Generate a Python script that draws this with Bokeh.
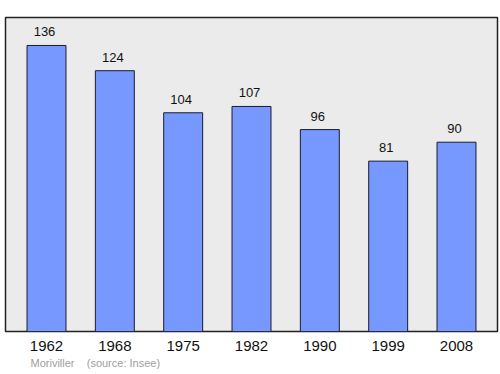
from bokeh.plotting import figure
from bokeh.models import ColumnDataSource, Range1d, Title, FixedTicker
from bokeh.core.properties import value
from bokeh.embed import file_html
from bokeh.resources import INLINE

years = ["1962", "1968", "1975", "1982", "1990", "1999", "2008"]
population = [136, 124, 104, 107, 96, 81, 90]
footer = "Moriviller\u00a0\u00a0\u00a0\u00a0(source: Insee)"

xs = list(range(len(years)))
src = ColumnDataSource(dict(x=xs, top=population, lab=[str(v) for v in population]))

p = figure(width=500, height=374, output_backend="svg", toolbar_location=None,
           x_range=Range1d(-0.6, 6.6), y_range=Range1d(0, 149.3),
           min_border_left=5, min_border_right=3, min_border_top=17, min_border_bottom=0)
p.background_fill_color = "#ebebeb"
p.border_fill_color = "white"
p.outline_line_color = "#222222"
p.outline_line_width = 1.5
p.xgrid.visible = False
p.ygrid.visible = False
p.yaxis.visible = False

p.vbar(x="x", top="top", width=0.57, bottom=0, source=src,
       fill_color="#7799ff", line_color="#1a1a2e", line_width=1)
p.text(x="x", y="top", text="lab", source=src, y_offset=-9, x_offset=-2,
       text_align="center", text_baseline="bottom",
       text_font=value("Liberation Sans"), text_font_size="13px", text_color="#111111")

ax = p.xaxis[0]
ax.ticker = FixedTicker(ticks=xs)
ax.major_label_overrides = {i: y for i, y in zip(xs, years)}
ax.major_label_text_font = "Liberation Sans"
ax.major_label_text_font_size = "15px"
ax.major_label_text_color = "#111111"
ax.axis_line_color = None
ax.major_tick_line_color = None
ax.minor_tick_line_color = None
ax.major_label_standoff = 3

t = Title(text=footer, align="left", text_font="Liberation Sans", text_font_size="11px",
          text_color="#a0a0a0", text_font_style="normal", offset=25, standoff=2)
p.add_layout(t, "below")
spacer = Title(text=" ", text_font_size="3px", standoff=0)
p.add_layout(spacer, "below")

open("out.html", "w").write(file_html(p, INLINE))
